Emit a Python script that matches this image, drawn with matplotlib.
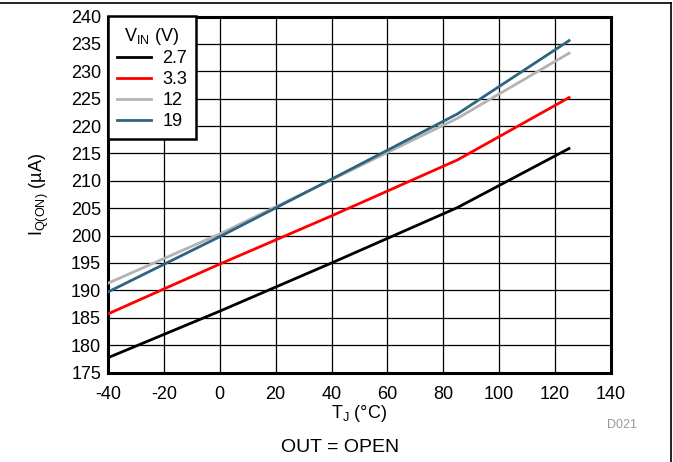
import matplotlib
matplotlib.use("Agg")
import matplotlib.pyplot as plt
from matplotlib.lines import Line2D

plt.rcParams["font.family"] = ["Liberation Sans", "DejaVu Sans"]
plt.rcParams["mathtext.default"] = "regular"
plt.rcParams["axes.unicode_minus"] = False

# junction temperature (degC)
temps = [-40, 0, 40, 85, 125]

# quiescent current (uA) for each input voltage
iq_2v7 = [177.7, 186.2, 195.0, 205.1, 215.9]
iq_3v3 = [185.7, 194.8, 203.6, 213.8, 225.2]
iq_12v = [191.3, 200.3, 210.2, 221.4, 233.3]
iq_19v = [189.7, 199.8, 210.3, 222.2, 235.6]

labels = ["2.7", "3.3", "12", "19"]
colors = ["#000000", "#ff0000", "#b3b3b3", "#2f6480"]

x_ticks = list(range(-40, 141, 20))
y_ticks = list(range(175, 241, 5))

fs = 13

fig = plt.figure(figsize=(6.73, 4.62), dpi=100)
ax = fig.add_axes([108 / 673, 1 - 372.5 / 462, 503 / 673, 356 / 462])

for vals, lab, col in zip([iq_2v7, iq_3v3, iq_12v, iq_19v], labels, colors):
    ax.plot(temps, vals, color=col, lw=2.0, label=lab, zorder=3)

ax.set_xlim(-40, 140)
ax.set_ylim(175, 240)
ax.set_xticks(x_ticks)
ax.set_yticks(y_ticks)
ax.tick_params(axis="x", length=0, labelsize=fs, pad=10)
ax.tick_params(axis="y", length=0, labelsize=fs, pad=5)
ax.grid(True, color="#000000", lw=0.9, zorder=1)
for s in ax.spines.values():
    s.set_linewidth(2.2)

ax.set_xlabel("$T_J$ (°C)", fontsize=fs, labelpad=0)
ax.set_ylabel("$I_{Q(ON)}$ (µA)", fontsize=fs, labelpad=14)

leg = ax.legend(title="$V_{IN}$ (V)", loc="upper left", fontsize=fs,
                title_fontsize=fs, fancybox=False, framealpha=1,
                edgecolor="#000000", borderaxespad=0, handlelength=1.9,
                handletextpad=0.6, labelspacing=0.22, borderpad=0.5)
leg.get_frame().set_linewidth(1.8)
leg.set_zorder(5)

fig.text(622 / 673, 1 - 425 / 462, "D021", color="#999999", fontsize=9,
         ha="center", va="center")
fig.text(340 / 673, 1 - 447 / 462, "OUT = OPEN", fontsize=14,
         ha="center", va="center")

# page frame (top and right edges)
fig.add_artist(Line2D([0, 671 / 673], [1 - 3 / 462, 1 - 3 / 462],
                      transform=fig.transFigure, color="#000000", lw=1.2))
fig.add_artist(Line2D([671 / 673, 671 / 673], [0, 1 - 3 / 462],
                      transform=fig.transFigure, color="#000000", lw=1.2))

fig.savefig("out.png", dpi=100)
